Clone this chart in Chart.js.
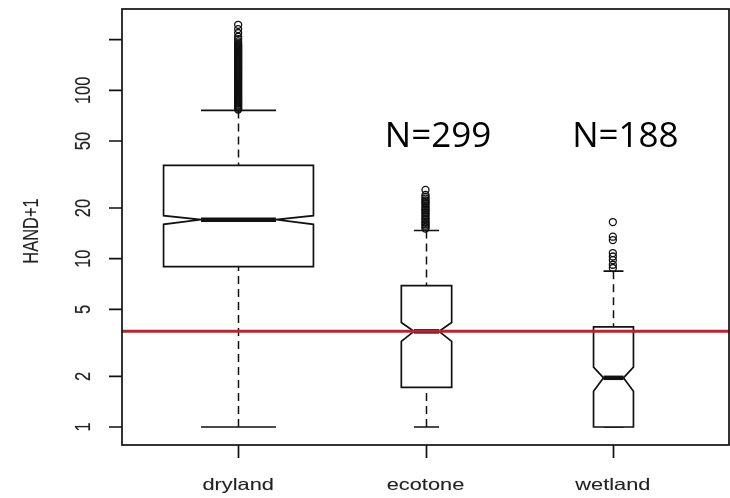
<!DOCTYPE html>
<html><head><meta charset="utf-8">
<script src="https://cdn.jsdelivr.net/npm/chart.js@4.4.1/dist/chart.umd.min.js"></script>
<style>html,body{margin:0;padding:0;background:#fff}#wrap{width:730px;height:498px}</style>
</head><body><div id="wrap"><canvas id="c" width="730" height="498"></canvas></div>
<script>
// ---- data ----
const categories = ['dryland', 'ecotone', 'wetland'];
const counts = [2650, 299, 188];
const showCount = [false, true, true];
const whiskerLow = [1.0, 1.0, 1.0];
const q1 = [8.98, 1.72, 1.0];
const median = [17.05, 3.7, 1.96];
const q3 = [35.8, 6.92, 3.93];
const whiskerHigh = [75.9, 14.7, 8.43];
const notchLow = [16.0, 3.23, 1.63];
const notchHigh = [18.0, 4.18, 2.27];
const outliersDryland = [245, 231, 219, 208, 201, 195, 190, 186.6, 184, 181.6, 179, 176.6, 174, 171.9, 169.5, 167.3, 165, 162.8, 160.5, 158.4, 156.2, 154.2, 152, 150, 148, 146, 144, 142.1, 140, 138.2, 136.3, 134.5, 132.7, 130.9, 129.1, 127.4, 125.6, 123.9, 122.2, 120.6, 119, 117.3, 115.8, 114.2, 112.6, 111.1, 109.6, 108.1, 106.6, 105.2, 103.8, 102.4, 101, 99.6, 98.2, 96.9, 95.6, 94.3, 93, 91.7, 90.5, 89.2, 88, 86.8, 85.6, 84.5, 83.3, 82.2, 81.1, 80, 78.9, 77.8, 76.8];
const outliersEcotone = [25.6, 23.9, 23.3, 22.7, 22.2, 21.8, 21.4, 21, 20.5, 20, 19.6, 19.3, 18.9, 18.5, 18.1, 17.7, 17.3, 17, 16.6, 16.3, 16, 15.7, 15.4, 15.1];
const outliersWetland = [16.5, 13.5, 12.9, 10.8, 10.3, 9.8, 9.2, 8.8];
const thresholdValue = 3.7;
const yTicks = [1, 2, 5, 10, 20, 50, 100, 200];
const yTickLabels = ['1', '2', '5', '10', '20', '50', '100', ''];
const yTitle = 'HAND+1';

// ---- build datasets ----
const outlierGroups = [outliersDryland, outliersEcotone, outliersWetland];
const outlierData = [];
outlierGroups.forEach((g, i) => g.forEach(v => outlierData.push({x: i + 1, y: v})));
const X_MIN = 0.38, X_MAX = 3.62;
const maxSqrtN = Math.sqrt(Math.max(...counts));
const boxWidth = counts.map(n => 0.8 * Math.sqrt(n) / maxSqrtN);

const RFONT = '"Liberation Sans", Arial, sans-serif';
const SX = 1.32; // horizontal stretch of the R text in the reference

function stretchedText(ctx, text, x, y, rotate, size, align) {
  ctx.save();
  ctx.translate(x, y);
  ctx.scale(SX, 1);
  if (rotate) ctx.rotate(-Math.PI / 2);
  ctx.font = size + 'px ' + RFONT;
  ctx.textAlign = align || 'center';
  ctx.textBaseline = 'alphabetic';
  ctx.fillStyle = '#222';
  ctx.strokeStyle = 'rgba(40,40,40,0.35)';
  ctx.lineWidth = 0.3;
  ctx.fillText(text, 0, 0);
  ctx.strokeText(text, 0, 0);
  ctx.restore();
}

const boxPlugin = {
  id: 'boxes',
  beforeDatasetsDraw(chart) {
    const ctx = chart.ctx, xs = chart.scales.x, ys = chart.scales.y;
    ctx.save();
    ctx.strokeStyle = '#111';
    categories.forEach((c, i) => {
      const cx = Math.round(xs.getPixelForValue(i + 1)) + 0.5;
      const w = xs.getPixelForValue(i + 1 + boxWidth[i]) - xs.getPixelForValue(i + 1);
      const Y = v => ys.getPixelForValue(v);
      // dashed whiskers
      ctx.lineWidth = 1.5;
      ctx.setLineDash([8, 5]);
      ctx.beginPath();
      ctx.moveTo(cx, Y(whiskerHigh[i])); ctx.lineTo(cx, Y(q3[i]));
      ctx.moveTo(cx, Y(whiskerLow[i])); ctx.lineTo(cx, Y(q1[i]));
      ctx.stroke();
      ctx.setLineDash([]);
      // staples
      ctx.lineWidth = 1.7;
      ctx.beginPath();
      ctx.moveTo(cx - w / 4, Y(whiskerHigh[i])); ctx.lineTo(cx + w / 4, Y(whiskerHigh[i]));
      ctx.moveTo(cx - w / 4, Y(whiskerLow[i])); ctx.lineTo(cx + w / 4, Y(whiskerLow[i]));
      ctx.stroke();
      // notched box
      const pts = [[-0.5, q1[i]], [0.5, q1[i]], [0.5, notchLow[i]], [0.25, median[i]], [0.5, notchHigh[i]],
                   [0.5, q3[i]], [-0.5, q3[i]], [-0.5, notchHigh[i]], [-0.25, median[i]], [-0.5, notchLow[i]]];
      ctx.beginPath();
      pts.forEach((p, k) => {
        const px = cx + p[0] * w, py = Y(p[1]);
        if (k === 0) ctx.moveTo(px, py); else ctx.lineTo(px, py);
      });
      ctx.closePath();
      ctx.fillStyle = '#fff';
      ctx.fill();
      ctx.lineWidth = 1.7;
      ctx.stroke();
      // median
      ctx.lineWidth = 4.5;
      ctx.beginPath();
      ctx.moveTo(cx - w / 4, Y(median[i])); ctx.lineTo(cx + w / 4, Y(median[i]));
      ctx.stroke();
    });
    ctx.restore();
  },
  afterDraw(chart) {
    const ctx = chart.ctx, xs = chart.scales.x, ys = chart.scales.y, a = chart.chartArea;
    ctx.save();
    ctx.strokeStyle = '#111';
    ctx.lineWidth = 1.7;
    ctx.strokeRect(a.left, a.top, a.right - a.left, a.bottom - a.top);
    // ticks
    ctx.beginPath();
    yTicks.forEach(t => { const y = ys.getPixelForValue(t); ctx.moveTo(a.left - 13, y); ctx.lineTo(a.left, y); });
    categories.forEach((c, i) => { const x = Math.round(xs.getPixelForValue(i + 1)) + 0.5; ctx.moveTo(x, a.bottom); ctx.lineTo(x, a.bottom + 13); });
    ctx.stroke();
    yTicks.forEach((t, k) => { if (yTickLabels[k]) stretchedText(ctx, yTickLabels[k], 90, ys.getPixelForValue(t), true, 16.5); });
    categories.forEach((c, i) => stretchedText(ctx, c, xs.getPixelForValue(i + 1), 490, false, 16.5));
    stretchedText(ctx, yTitle, 38, (a.top + a.bottom) / 2 + 4, true, 16.5);
    // N labels
    ctx.font = '35px "Open Sans", sans-serif';
    ctx.fillStyle = '#000';
    ctx.textAlign = 'center';
    ctx.textBaseline = 'alphabetic';
    categories.forEach((c, i) => { if (showCount[i]) ctx.fillText('N=' + counts[i], xs.getPixelForValue(i + 1) + 12.5, 147); });
    ctx.restore();
  }
};

new Chart(document.getElementById('c'), {
  type: 'scatter',
  data: {
    datasets: [
      { label: 'threshold', type: 'line', data: [{x: X_MIN, y: thresholdValue}, {x: X_MAX, y: thresholdValue}],
        borderColor: '#b3282d', borderWidth: 3, pointRadius: 0, fill: false },
      { label: 'outliers', data: outlierData, pointStyle: 'circle', pointRadius: 3.5,
        borderColor: '#111', borderWidth: 1.3, backgroundColor: 'rgba(255,255,255,0)' }
    ]
  },
  options: {
    responsive: false, animation: false, devicePixelRatio: 1,
    layout: { autoPadding: false, padding: { left: 122, right: 1, top: 9, bottom: 53 } },
    plugins: { legend: { display: false }, tooltip: { enabled: false } },
    scales: {
      x: { type: 'linear', min: X_MIN, max: X_MAX, display: false },
      y: { type: 'logarithmic', min: 0.782, max: 304, display: false }
    }
  },
  plugins: [boxPlugin]
});
</script></body></html>
